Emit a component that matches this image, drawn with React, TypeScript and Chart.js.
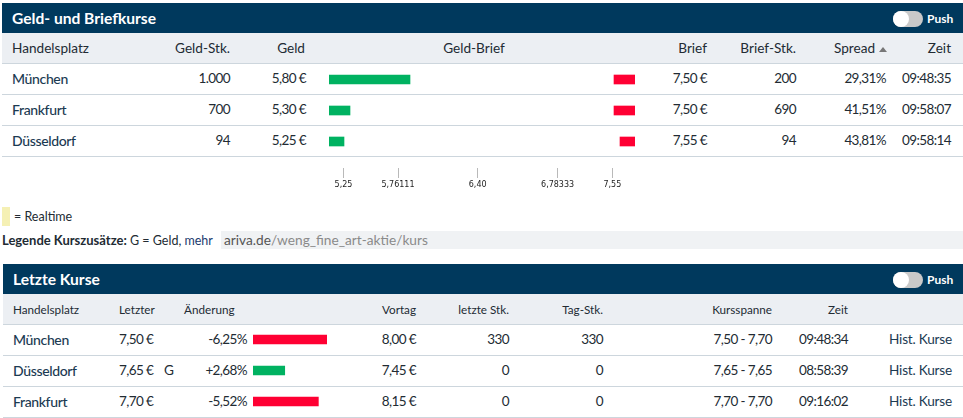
import * as React from 'react';
import { useEffect, useRef } from 'react';
import { Chart, registerables } from 'chart.js';

Chart.register(...registerables);

const bidPlaces = ['München', 'Frankfurt', 'Düsseldorf'];
const bidSizes = ['1.000', '700', '94'];
const bidPrices = [5.8, 5.3, 5.25];
const askPrices = [7.5, 7.5, 7.55];
const askSizes = ['200', '690', '94'];
const spreads = ['29,31%', '41,51%', '43,81%'];
const bidTimes = ['09:48:35', '09:58:07', '09:58:14'];

// the axis below the bars is not linear in the original, so labels and places are separate
const axisTickValues = [5.246, 5.7, 6.364, 7.03, 7.486];
const axisTickLabels = ['5,25', '5,76111', '6,40', '6,78333', '7,55'];

const lastPlaces = ['München', 'Düsseldorf', 'Frankfurt'];
const lastPrices = ['7,50 €', '7,65 €', '7,70 €'];
const lastFlags = ['', 'G', ''];
const changes = [-6.25, 2.68, -5.52];
const prevPrices = ['8,00 €', '7,45 €', '8,15 €'];
const lastSizes = ['330', '0', '0'];
const daySizes = ['330', '0', '0'];
const ranges = ['7,50 - 7,70', '7,65 - 7,65', '7,70 - 7,70'];
const lastTimes = ['09:48:34', '08:58:39', '09:16:02'];

const GREEN = '#00b261';
const RED = '#ff0033';
const NAVY = '#00395d';
const FONT = 'Lato, sans-serif';
const AXIS_MIN = 5.125;
const AXIS_MAX = 7.675;

const euro = (v: number) => v.toFixed(2).replace('.', ',') + ' €';
const percent = (v: number) => (v > 0 ? '+' : '') + v.toFixed(2).replace('.', ',') + '%';

const ChartCanvas = ({ left, top, width, height, config }: any) => {
  const ref = useRef<HTMLCanvasElement>(null);
  useEffect(() => {
    const chart = new Chart(ref.current!, config);
    return () => chart.destroy();
  }, [config]);
  return (
    <canvas
      ref={ref}
      width={width}
      height={height}
      style={{ position: 'absolute', left, top, width, height }}
    />
  );
};

const hiddenAxes = (min: number, max: number) => ({
  x: { display: false, min, max },
  y: { display: false },
});

const baseOptions = {
  indexAxis: 'y',
  responsive: false,
  animation: false,
  events: [],
  plugins: { legend: { display: false }, tooltip: { enabled: false } },
};

const spreadBarsConfig = {
  type: 'bar',
  data: {
    labels: bidPlaces,
    datasets: [
      { data: bidPrices.map((v) => [AXIS_MIN, v]), backgroundColor: GREEN, barThickness: 9, grouped: false },
      { data: askPrices.map((v) => [v, AXIS_MAX]), backgroundColor: RED, barThickness: 9, grouped: false },
    ],
  },
  options: { ...baseOptions, scales: hiddenAxes(AXIS_MIN, AXIS_MAX) },
};

const spreadAxisConfig = {
  type: 'scatter',
  data: { datasets: [] },
  options: {
    responsive: false,
    animation: false,
    events: [],
    plugins: { legend: { display: false }, tooltip: { enabled: false } },
    scales: {
      y: { display: false },
      x: {
        type: 'linear',
        min: AXIS_MIN,
        max: AXIS_MAX,
        border: { display: false },
        grid: { color: '#b9b9b9', drawTicks: false },
        afterBuildTicks: (axis: any) => {
          axis.ticks = axisTickValues.map((value) => ({ value }));
        },
        afterFit: (axis: any) => {
          axis.height = 13;
        },
        ticks: {
          autoSkip: false,
          maxRotation: 0,
          padding: 2,
          color: '#222222',
          font: { family: 'DejaVu Sans', size: 8 },
          callback: (_: any, i: number) => axisTickLabels[i],
        },
      },
    },
  },
};

const changeBarsConfig = {
  type: 'bar',
  data: {
    labels: lastPlaces,
    datasets: [
      {
        data: changes.map((v) => Math.abs(v)),
        backgroundColor: changes.map((v) => (v < 0 ? RED : GREEN)),
        barThickness: 9,
      },
    ],
  },
  options: { ...baseOptions, scales: hiddenAxes(0, 6.25) },
};

const Text = ({ x, right, center, y, h = 31, size = 13.6, color = '#222b33', weight = 400, spacing = 0, children }: any) => (
  <div
    style={{
      position: 'absolute',
      top: y,
      height: h,
      lineHeight: h + 'px',
      fontSize: size,
      letterSpacing: spacing,
      color,
      fontWeight: weight,
      whiteSpace: 'nowrap',
      ...(x !== undefined ? { left: x } : {}),
      ...(right !== undefined ? { right: 963 - right } : {}),
      ...(center !== undefined ? { left: center, transform: 'translateX(-50%)' } : {}),
    }}
  >
    {children}
  </div>
);

// figures in the original are narrower than Lato's
const Num = (props: any) => <Text size={13.5} spacing={-0.6} {...props} />;
const Place = (props: any) => <Text size={14} weight={500} color="#1b3a52" spacing={-0.35} {...props} />;

const Band = ({ x, y, w, h, color }: any) => (
  <div style={{ position: 'absolute', left: x, top: y, width: w, height: h, background: color }} />
);

const TitleBar = ({ x, y, title }: any) => (
  <>
    <Band x={x} y={y} w={963 - x} h={30} color={NAVY} />
    <Text x={x + 10} y={y} h={31} size={15.6} weight={700} color="#ffffff">
      {title}
    </Text>
    <div
      style={{
        position: 'absolute',
        left: 893,
        top: y + 8,
        width: 30,
        height: 16,
        borderRadius: 8,
        background: '#c9c9c9',
      }}
    />
    <div
      style={{
        position: 'absolute',
        left: 893,
        top: y + 8,
        width: 16,
        height: 16,
        borderRadius: 8,
        background: '#ffffff',
      }}
    />
    <Text x={927} y={y} h={31} size={12} weight={700} color="#ffffff">
      Push
    </Text>
  </>
);

const RowLines = ({ x, ys }: any) =>
  ys.map((y: number) => <Band key={y} x={x} y={y} w={963 - x} h={1} color="#cdd6dd" />);

export default function App() {
  return (
    <div
      style={{
        position: 'absolute',
        left: 0,
        top: 0,
        width: 963,
        height: 418,
        overflow: 'hidden',
        background: '#ffffff',
        fontFamily: FONT,
      }}
    >
      {/* Geld- und Briefkurse */}
      <TitleBar x={2} y={3} title="Geld- und Briefkurse" />
      <Band x={2} y={33} w={961} h={30} color="#eceff3" />
      <RowLines x={2} ys={[63, 94, 125, 156]} />
      <Text x={12} y={33}>Handelsplatz</Text>
      <Text right={230} y={33}>Geld-Stk.</Text>
      <Text right={305} y={33}>Geld</Text>
      <Text center={474} y={33}>Geld-Brief</Text>
      <Text right={707} y={33}>Brief</Text>
      <Text right={796} y={33}>Brief-Stk.</Text>
      <Text right={875} y={33}>Spread</Text>
      <div
        style={{
          position: 'absolute',
          left: 879,
          top: 47,
          width: 0,
          height: 0,
          borderLeft: '4px solid transparent',
          borderRight: '4px solid transparent',
          borderBottom: '5px solid #777777',
        }}
      />
      <Text right={951} y={33}>Zeit</Text>
      {bidPlaces.map((place, i) => {
        const y = 63 + i * 31;
        return (
          <React.Fragment key={place}>
            <Place x={12} y={y}>{place}</Place>
            <Num right={230} y={y}>{bidSizes[i]}</Num>
            <Num right={306} y={y}>{euro(bidPrices[i])}</Num>
            <Num right={707} y={y}>{euro(askPrices[i])}</Num>
            <Num right={796} y={y}>{askSizes[i]}</Num>
            <Num right={886} y={y}>{spreads[i]}</Num>
            <Num right={951} y={y}>{bidTimes[i]}</Num>
          </React.Fragment>
        );
      })}
      <ChartCanvas left={329} top={64} width={306} height={93} config={spreadBarsConfig} />
      <ChartCanvas left={329} top={168} width={306} height={23} config={spreadAxisConfig} />

      {/* Legende */}
      <Band x={2} y={207} w={8} h={19} color="#f5f0b4" />
      <Text x={14} y={207} h={20} size={12.5}>= Realtime</Text>
      <Text x={2} y={231} h={18} size={12.5}>
        <span style={{ fontWeight: 700, fontSize: 13 }}>Legende Kurszusätze:</span> G = Geld,{' '}
        <span style={{ color: '#1b3a6e' }}>mehr</span>
      </Text>
      <Band x={221} y={231} w={742} h={18} color="#f0f2f4" />
      <Text x={224} y={231} h={18} size={13.7} color="#8a8a8a">
        <span style={{ color: '#555555' }}>ariva.de</span>/weng_fine_art-aktie/kurs
      </Text>

      {/* Letzte Kurse */}
      <TitleBar x={3} y={264} title="Letzte Kurse" />
      <Band x={3} y={294} w={960} h={30} color="#eceff3" />
      <RowLines x={3} ys={[324, 355, 386, 417]} />
      <Text x={13} y={294} size={11.7}>Handelsplatz</Text>
      <Text x={119} y={294} size={11.7}>Letzter</Text>
      <Text x={184} y={294} size={11.7}>Änderung</Text>
      <Text right={416} y={294} size={11.7}>Vortag</Text>
      <Text right={509} y={294} size={11.7}>letzte Stk.</Text>
      <Text right={603} y={294} size={11.7}>Tag-Stk.</Text>
      <Text right={772} y={294} size={11.7}>Kursspanne</Text>
      <Text right={848} y={294} size={11.7}>Zeit</Text>
      {lastPlaces.map((place, i) => {
        const y = 324 + i * 31;
        return (
          <React.Fragment key={place}>
            <Place x={13} y={y}>{place}</Place>
            <Num x={119} y={y}>{lastPrices[i]}</Num>
            <Text x={164} y={y}>{lastFlags[i]}</Text>
            <Num right={247} y={y}>{percent(changes[i])}</Num>
            <Num right={416} y={y}>{prevPrices[i]}</Num>
            <Num right={509} y={y}>{lastSizes[i]}</Num>
            <Num right={603} y={y}>{daySizes[i]}</Num>
            <Num right={772} y={y}>{ranges[i]}</Num>
            <Num right={848} y={y}>{lastTimes[i]}</Num>
            <Text right={952} y={y} color="#1b3a52" spacing={-0.2}>Hist. Kurse</Text>
          </React.Fragment>
        );
      })}
      <ChartCanvas left={253} top={324} width={74} height={93} config={changeBarsConfig} />
    </div>
  );
}
